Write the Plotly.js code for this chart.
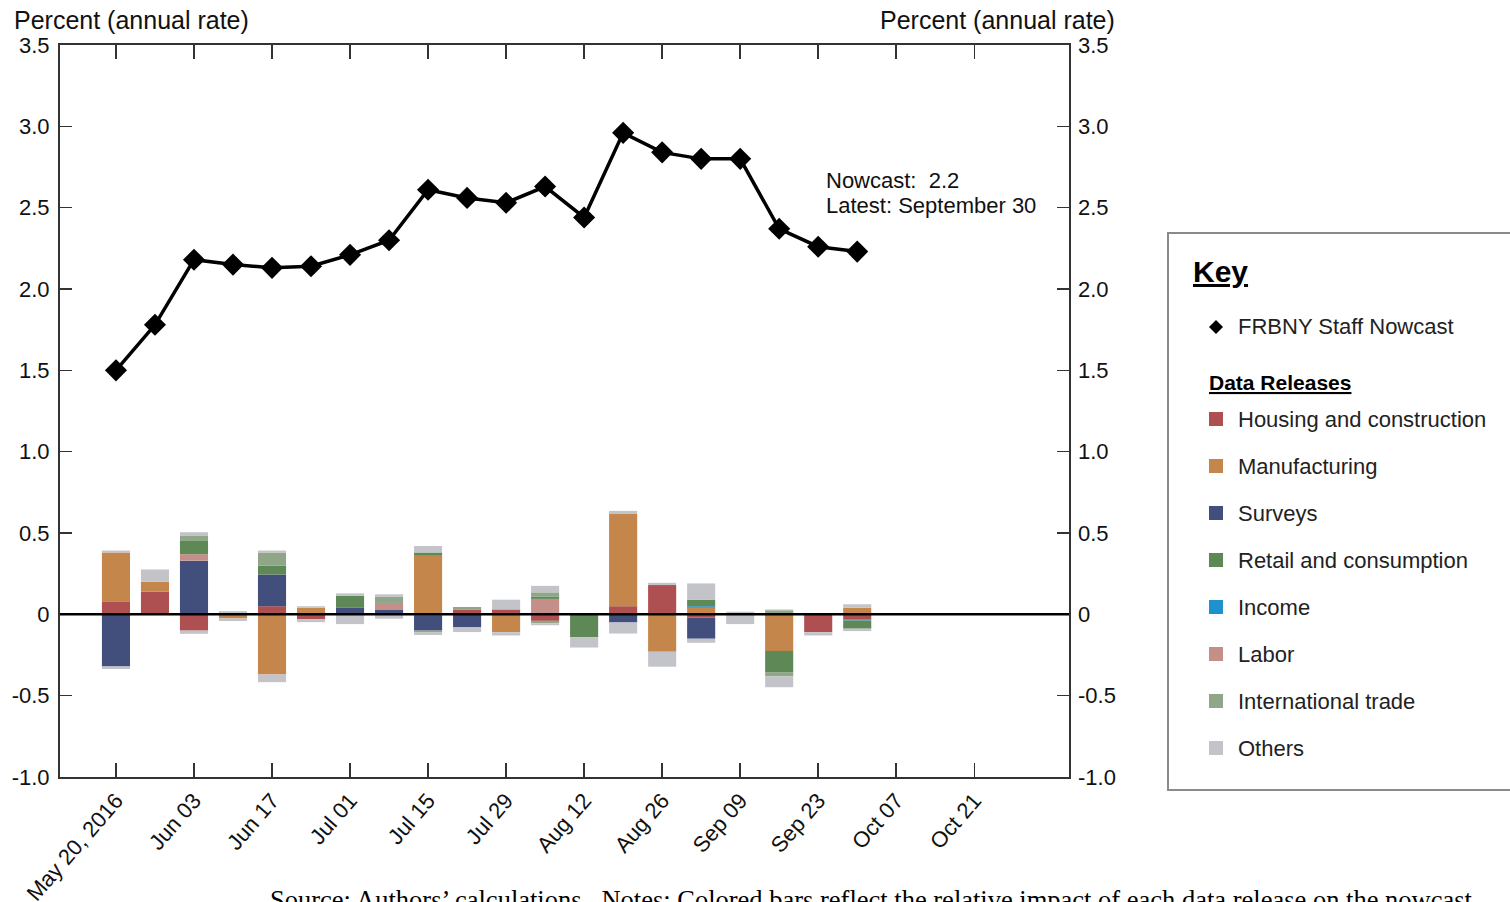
<!DOCTYPE html>
<html><head><meta charset="utf-8">
<script src="https://cdn.plot.ly/plotly-3.0.1.min.js"></script>
<style>html,body{margin:0;padding:0;background:#fff;overflow:hidden}</style>
</head><body><div id="chart" style="width:1510px;height:902px"></div>
<script>
// ---------- data ----------
const weeks = ['2016-05-20','2016-05-27','2016-06-03','2016-06-10','2016-06-17','2016-06-24',
  '2016-07-01','2016-07-08','2016-07-15','2016-07-22','2016-07-29','2016-08-05','2016-08-12',
  '2016-08-19','2016-08-26','2016-09-02','2016-09-09','2016-09-16','2016-09-23','2016-09-30'];
const nowcast = [1.50,1.78,2.18,2.15,2.13,2.14,2.21,2.30,2.61,2.56,2.53,2.63,2.44,2.96,2.84,2.80,2.80,2.37,2.26,2.23];

const housingUp   = [0.08,0.14,0,0,0.05,0,0,0,0,0.03,0.03,0,0,0.05,0.18,0,0,0,0,0];
const housingDown = [0,0,-0.10,0,0,-0.03,0,0,-0.01,0,0,-0.04,0,0,0,-0.02,0,0,-0.11,-0.03];
const manufUp     = [0.30,0.06,0,0,0,0.04,0,0,0.36,0,0,0,0,0.57,0,0.04,0,0,0,0.04];
const manufDown   = [0,0,0,-0.025,-0.37,0,0,0,0,0,-0.11,0,0,0,-0.23,0,0,-0.225,0,0];
const surveysUp   = [0,0,0.33,0,0.195,0,0.04,0.03,0,0,0,0,0,0,0,0,0,0,0,0];
const surveysDown = [-0.32,0,0,0,0,0,0,0,-0.09,-0.08,0,0,0,-0.05,0,-0.13,0,0,0,0];
const retailUp    = [0,0,0.085,0,0.055,0,0.075,0,0.02,0,0,0.015,0,0,0,0.04,0,0,0,0];
const retailDown  = [0,0,0,0,0,0,0,0,0,0,0,0,-0.14,0,0,0,0,-0.13,0,-0.05];
const incomeUp    = [0,0,0,0,0,0,0,0,0,0,0,0,0,0,0,0.01,0,0,0,0];
const incomeDown  = [0,0,0,0,0,0,0,0,0,0,0,0,0,0,0,0,0,0,0,-0.008];
const laborUp     = [0,0,0.04,0,0,0,0,0.04,0,0,0,0.095,0,0,0,0,0,0,0,0];
const laborDown   = [0,0,0,0,0,0,0,0,0,0,0,0,0,0,0,0,0,0,0,0];
const tradeUp     = [0,0,0.03,0,0.08,0,0,0.037,0,0.015,0,0.025,0,0,0,0,0,0.025,0,0];
const tradeDown   = [0,0,0,0,0,0,0,0,-0.012,0,0,-0.015,0,0,0,0,0,-0.027,0,0];
const othersUp    = [0.012,0.076,0.02,0.02,0.012,0.01,0.014,0.016,0.04,0,0.06,0.04,0,0.016,0.014,0.10,0.016,0.005,0,0.022];
const othersDown  = [-0.016,0,-0.02,-0.016,-0.047,-0.018,-0.06,-0.027,-0.015,-0.029,-0.02,-0.012,-0.064,-0.068,-0.092,-0.025,-0.06,-0.066,-0.02,-0.015];

const seriesNames  = ['Housing and construction','Manufacturing','Surveys','Retail and consumption','Income','Labor','International trade','Others'];
const seriesColors = ['#AE4F51','#C4864A','#424F7D','#5E8855','#1F91CF','#C48F88','#8FA688','#C3C3CA'];
const seriesUp     = [housingUp, manufUp, surveysUp, retailUp, incomeUp, laborUp, tradeUp, othersUp];
const seriesDown   = [housingDown, manufDown, surveysDown, retailDown, incomeDown, laborDown, tradeDown, othersDown];
const stackOrder   = [0,1,2,4,5,3,6,7];

const tickDates  = ['2016-05-20','2016-06-03','2016-06-17','2016-07-01','2016-07-15','2016-07-29',
  '2016-08-12','2016-08-26','2016-09-09','2016-09-23','2016-10-07','2016-10-21'];
const tickLabels = ['May 20, 2016','Jun 03','Jun 17','Jul 01','Jul 15','Jul 29','Aug 12','Aug 26','Sep 09','Sep 23','Oct 07','Oct 21'];
const yTickVals  = [-1,-0.5,0,0.5,1,1.5,2,2.5,3,3.5];
const yTickText  = ['-1.0','-0.5','0','0.5','1.0','1.5','2.0','2.5','3.0','3.5'];

// ---------- layout helpers ----------
const FONT = 'Liberation Sans Narrow, Liberation Sans, Arial, sans-serif';
const L = 60, R = 1069, T = 45, B = 777;
const px = x => (x - L) / (R - L);
const py = y => (B - y) / (B - T);
const barWidth = 0.72 * 7 * 86400000;

const traces = [];
stackOrder.forEach(i => {
  traces.push({
    type: 'bar', name: seriesNames[i],
    x: weeks.concat(weeks), y: seriesUp[i].concat(seriesDown[i]),
    width: barWidth,
    marker: {color: seriesColors[i], line: {width: 0}},
    showlegend: false, hoverinfo: 'x+y+name'
  });
});
traces.push({
  type: 'scatter', mode: 'lines+markers', name: 'FRBNY Staff Nowcast',
  x: weeks, y: nowcast, yaxis: 'y2',
  line: {color: '#000', width: 3.5},
  marker: {symbol: 'diamond', size: 17, color: '#000'},
  showlegend: false
});

const shapes = [
  {type: 'line', xref: 'paper', yref: 'y', x0: 0, x1: 1, y0: 0, y1: 0, line: {color: '#000', width: 2.5}, layer: 'above'},
  {type: 'rect', xref: 'paper', yref: 'paper', x0: px(1168), x1: px(1530), y0: py(233), y1: py(790), line: {color: '#8a8a8a', width: 2}, fillcolor: 'rgba(0,0,0,0)'},
  {type: 'path', xref: 'paper', yref: 'paper',
   path: `M ${px(1216)} ${py(320)} L ${px(1223)} ${py(327)} L ${px(1216)} ${py(334)} L ${px(1209)} ${py(327)} Z`,
   fillcolor: '#000', line: {color: '#000', width: 0}}
];
const annotations = [
  {xref: 'paper', yref: 'paper', x: px(12), y: py(20), xanchor: 'left', yanchor: 'middle', showarrow: false,
   text: 'Percent (annual rate)', font: {family: FONT, size: 25, color: '#111'}},
  {xref: 'paper', yref: 'paper', x: px(1117), y: py(20), xanchor: 'right', yanchor: 'middle', showarrow: false,
   text: 'Percent (annual rate)', font: {family: FONT, size: 25, color: '#111'}},
  {xref: 'paper', yref: 'paper', x: px(824), y: py(180), xanchor: 'left', yanchor: 'middle', showarrow: false, align: 'left',
   text: 'Nowcast:  ' + nowcast[nowcast.length - 1].toFixed(1),
   font: {family: FONT, size: 22, color: '#111'}},
  {xref: 'paper', yref: 'paper', x: px(824), y: py(205), xanchor: 'left', yanchor: 'middle', showarrow: false, align: 'left',
   text: 'Latest: September 30',
   font: {family: FONT, size: 22, color: '#111'}},
  {xref: 'paper', yref: 'paper', x: px(1191), y: py(271), xanchor: 'left', yanchor: 'middle', showarrow: false,
   text: '<b><u>Key</u></b>', font: {family: FONT, size: 30, color: '#000'}},
  {xref: 'paper', yref: 'paper', x: px(1236), y: py(326), xanchor: 'left', yanchor: 'middle', showarrow: false,
   text: 'FRBNY Staff Nowcast', font: {family: FONT, size: 22, color: '#222'}},
  {xref: 'paper', yref: 'paper', x: px(1207), y: py(383), xanchor: 'left', yanchor: 'middle', showarrow: false,
   text: '<b><u>Data Releases</u></b>', font: {family: FONT, size: 21, color: '#000'}},
  {xref: 'paper', yref: 'paper', x: px(268), y: py(900), xanchor: 'left', yanchor: 'middle', showarrow: false,
   text: 'Source: Authors’ calculations.  Notes: Colored bars reflect the relative impact of each data release on the nowcast.',
   font: {family: 'Liberation Serif, Times New Roman, serif', size: 26.5, color: '#000'}}
];
seriesNames.forEach((n, i) => {
  const cy = 419 + 47 * i;
  shapes.push({type: 'rect', xref: 'paper', yref: 'paper', x0: px(1209), x1: px(1223), y0: py(cy - 7), y1: py(cy + 7),
    fillcolor: seriesColors[i], line: {width: 0}});
  annotations.push({xref: 'paper', yref: 'paper', x: px(1236), y: py(cy), xanchor: 'left', yanchor: 'middle', showarrow: false,
    text: n, font: {family: FONT, size: 22, color: '#222'}});
});

const layout = {
  width: 1510, height: 902,
  margin: {l: L, r: 1510 - R, t: T, b: 902 - B, pad: 0},
  paper_bgcolor: '#fff', plot_bgcolor: '#fff',
  barmode: 'relative',
  showlegend: false,
  font: {family: FONT, color: '#111'},
  xaxis: {
    type: 'date', range: ['2016-05-09 23:00', '2016-11-07'],
    tickmode: 'array', tickvals: tickDates, ticktext: tickLabels, tickangle: -49,
    ticks: 'inside', ticklen: 14, tickwidth: 1.5, tickcolor: '#333',
    showline: true, linecolor: '#333', linewidth: 2, mirror: 'ticks',
    showgrid: false, zeroline: false,
    tickfont: {family: FONT, size: 22, color: '#111'}
  },
  yaxis: {
    range: [-1, 3.5], tickmode: 'array', tickvals: yTickVals, ticktext: yTickText,
    ticks: 'inside', ticklen: 12, tickwidth: 1.5, tickcolor: '#333',
    showline: true, linecolor: '#333', linewidth: 2, mirror: 'ticks',
    showgrid: false, zeroline: false, ticklabelstandoff: 4,
    tickfont: {family: FONT, size: 22, color: '#111'}
  },
  yaxis2: {
    overlaying: 'y', side: 'right', range: [-1, 3.5],
    tickmode: 'array', tickvals: yTickVals, ticktext: yTickText,
    ticks: '', showline: false, showgrid: false, zeroline: false, ticklabelstandoff: 8,
    tickfont: {family: FONT, size: 22, color: '#111'}
  },
  shapes: shapes,
  annotations: annotations
};
Plotly.newPlot('chart', traces, layout, {displayModeBar: false, staticPlot: true});
</script></body></html>
